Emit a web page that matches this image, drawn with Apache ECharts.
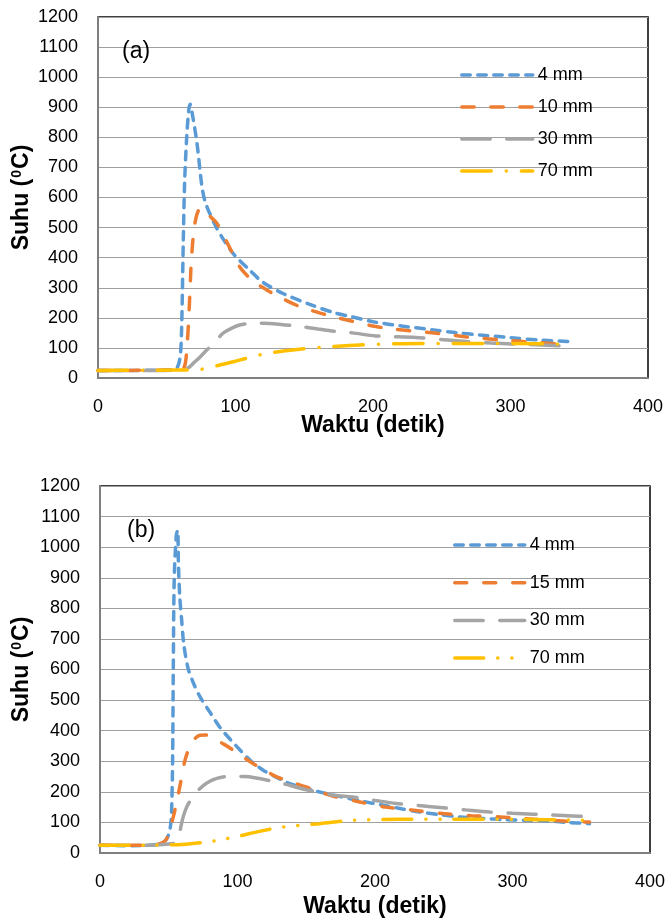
<!DOCTYPE html>
<html>
<head>
<meta charset="utf-8">
<script src="https://cdn.jsdelivr.net/npm/echarts/dist/echarts.min.js"></script>
<style>
  html, body { margin: 0; background: #fff; }
  #chart { width: 666px; height: 920px; }
</style>
</head>
<body>
<div id="chart"></div>
<script>
// Temperature vs time, two panels. Values as [detik, suhu].

// (a)
const A_4MM = [[0,25],[20,25],[40,26],[55,28],[58,38],[60,80],[61,200],[62,450],[63,650],[64.5,800],[66,890],[67,910],[68.5,880],
  [72,780],[75.5,640],[78,585],[85,510],[92,455],[99,410],[110,360],[120,318],[135,280],[154,245],[171,218],[185,203],
  [200,187],[222,172],[244,160],[260,151],[278,143],[300,134],[321,126],[345,121]];
const A_10MM = [[0,25],[20,25],[40,26],[60,26],[63,40],[64.5,90],[66,200],[67,300],[68,400],[70.7,520],[74.5,564],[78,555],
  [82,535],[86.5,514],[95,440],[103,370],[112,325],[123,292],[135,262],[147,237],[160,218],[171,204],[181,193],[202,171],
  [225,158],[246,149],[267,137],[287,129],[309,121],[336,113]];
const A_30MM = [[0,25],[40,25],[60,27],[66,35],[69.5,50],[74.5,71],[78,88],[81.6,104],[86,125],[91,149],[97,165],[103,176],
  [110,181],[120,182],[133,178],[147,171],[160,163],[171,156],[185,150],[202,140],[231,135],[250,128],[268,121],
  [286,116],[304,113],[338,107]];
const A_70MM = [[0,25],[40,26],[70,27],[79,32],[90,45],[98.6,54],[110,68],[123,82],[145,95],[169,104],[190,110],[236,115],
  [280,115],[336,113]];

// (b)
const B_4MM = [[0,25],[20,24],[40,27],[46,35],[49,50],[51,80],[52,130],[52.8,300],[53.3,600],[54,900],[55.5,1040],[56.5,1055],
  [57,950],[58,840],[59.4,761],[61,680],[64,605],[68,555],[72.7,511],[80,460],[87,412],[95,370],[102,336],[110,300],
  [119,270],[128,248],[138,227],[155,205],[170,189],[190,170],[206,156],[220,144],[232.5,134],[246,126],[261.6,118],
  [278,113],[295.5,109],[310,107],[324.6,105],[340,100],[356,96]];
const B_15MM = [[0,25],[20,25],[40,27],[46,35],[48.5,47],[53.3,118],[58,216],[61.8,303],[65,345],[67.9,369],[72.7,385],
  [77,386],[82.4,374],[90,356],[97,336],[104,314],[111.5,292],[120,270],[128.5,249],[139,232],[150,216],[160,200],
  [170,185],[189,167],[208,150],[228,140],[249.5,129],[270,122],[291,118],[305,113],[319.8,109],[340,104],[356,101]];
const B_30MM = [[0,25],[40,26],[52,30],[55,35],[58,70],[60,110],[63,150],[67,180],[72,208],[78,230],[85,244],[95,251],
  [105,250],[111.5,247],[122,238],[133,227],[150,207],[170,189],[184,183],[200,172],[215.5,162],[232,155],[249.5,148],
  [266,141],[283.4,134],[300,130],[315,127],[340,122],[358.5,118]];
const B_70MM = [[0,25],[40,26],[60,28],[77.6,36],[90,45],[101.8,56],[115,70],[133,85],[160,96],[184,107],[218,110],
  [250,110],[305,110],[356,107]];

const NAMES_A = ["4 mm", "10 mm", "30 mm", "70 mm"];
const NAMES_B = ["4 mm", "15 mm", "30 mm", "70 mm"];
const X_NAME = "Waktu (detik)";
const Y_NAME = "Suhu ({sup|0}C)";

const FONT = "'Liberation Sans', Arial, sans-serif";
const COLORS = ["#5b9bd5", "#ed7d31", "#a5a5a5", "#ffc000"];
const LW = 3.5;
// dash patterns (round caps add LW to each dash)
const DASH_A = [[8.5, 7.5], [12.5, 16.5], [28.5, 16.5], [29.5, 15, 0.1, 15]];
const DASH_B = [[8.5, 7.5], [12, 17], [28.5, 16.5], [29, 14, 0.1, 14, 0.1, 14]];

function series(panel, i, data, dash) {
  return {
    type: "line",
    name: (panel === 0 ? NAMES_A : NAMES_B)[i] + "|" + panel,
    data,
    xAxisIndex: panel,
    yAxisIndex: panel,
    symbol: "none",
    showSymbol: false,
    smooth: 0.3,
    lineStyle: { color: COLORS[i], width: LW, type: dash[i], cap: "round" },
    itemStyle: { color: COLORS[i] },
    emphasis: { disabled: true },
  };
}

function xAxis(idx, gap) {
  return {
    gridIndex: idx, type: "value", min: 0, max: 400, interval: 100,
    name: X_NAME, nameLocation: "middle", nameGap: gap, nameMoveOverlap: false,
    nameTextStyle: { fontFamily: FONT, fontWeight: "bold", fontSize: 23, color: "#000" },
    axisLine: { show: true, onZero: false, lineStyle: { color: "#7f7f7f", width: 2 } },
    axisTick: { show: false },
    axisLabel: { fontFamily: FONT, fontSize: 18, color: "#000", margin: 20, formatter: (v) => String(v) },
    splitLine: { show: false },
  };
}

function yAxis(idx, gap) {
  return {
    gridIndex: idx, type: "value", min: 0, max: 1200, interval: 100,
    name: Y_NAME, nameLocation: "middle", nameGap: gap, nameMoveOverlap: false,
    nameTextStyle: {
      fontFamily: FONT, fontWeight: "bold", fontSize: 23, color: "#000",
      rich: { sup: { fontFamily: FONT, fontWeight: "bold", fontSize: 14, color: "#000", verticalAlign: "top", padding: [0, 1, 8, 1] } },
    },
    axisLine: { show: true, lineStyle: { color: "#7f7f7f", width: 2 } },
    axisTick: { show: false },
    axisLabel: { fontFamily: FONT, fontSize: 18, color: "#000", margin: 20, formatter: (v) => String(v) },
    splitLine: { show: true, lineStyle: { color: "#a0a0a0", width: 1 } },
  };
}

function legend(panel, left, top, width, gap) {
  const names = panel === 0 ? NAMES_A : NAMES_B;
  return {
    data: names.map((n) => n + "|" + panel),
    orient: "vertical", left, top,
    itemWidth: width, itemHeight: 18, itemGap: gap,
    selectedMode: false,
    formatter: (n) => n.split("|")[0],
    textStyle: { fontFamily: FONT, fontSize: 18, color: "#000", lineHeight: 18 },
    lineStyle: { width: LW },
    itemStyle: { opacity: 0 },
  };
}

const chart = echarts.init(document.getElementById("chart"), null, { renderer: "canvas" });
chart.setOption({
  animation: false,
  backgroundColor: "#fff",
  title: [
    { text: "(a)", left: 122, top: 40, padding: 0, textStyle: { fontFamily: FONT, fontWeight: "normal", fontSize: 23, color: "#000" } },
    { text: "(b)", left: 127, top: 519, padding: 0, textStyle: { fontFamily: FONT, fontWeight: "normal", fontSize: 23, color: "#000" } },
  ],
  grid: [
    { left: 98, top: 17, width: 550, height: 361, show: true, borderColor: "#000", borderWidth: 1.5, outerBoundsMode: "none", containLabel: false },
    { left: 100, top: 486, width: 550, height: 367, show: true, borderColor: "#000", borderWidth: 1.5, outerBoundsMode: "none", containLabel: false },
  ],
  xAxis: [xAxis(0, 36), xAxis(1, 42)],
  yAxis: [yAxis(0, 65), yAxis(1, 67)],
  legend: [legend(0, 455, 61, 71, 14), legend(1, 448, 531, 70, 19.7)],
  series: [
    series(0, 0, A_4MM, DASH_A), series(0, 1, A_10MM, DASH_A),
    series(0, 2, A_30MM, DASH_A), series(0, 3, A_70MM, DASH_A),
    series(1, 0, B_4MM, DASH_B), series(1, 1, B_15MM, DASH_B),
    series(1, 2, B_30MM, DASH_B), series(1, 3, B_70MM, DASH_B),
  ],
});
</script>
</body>
</html>
